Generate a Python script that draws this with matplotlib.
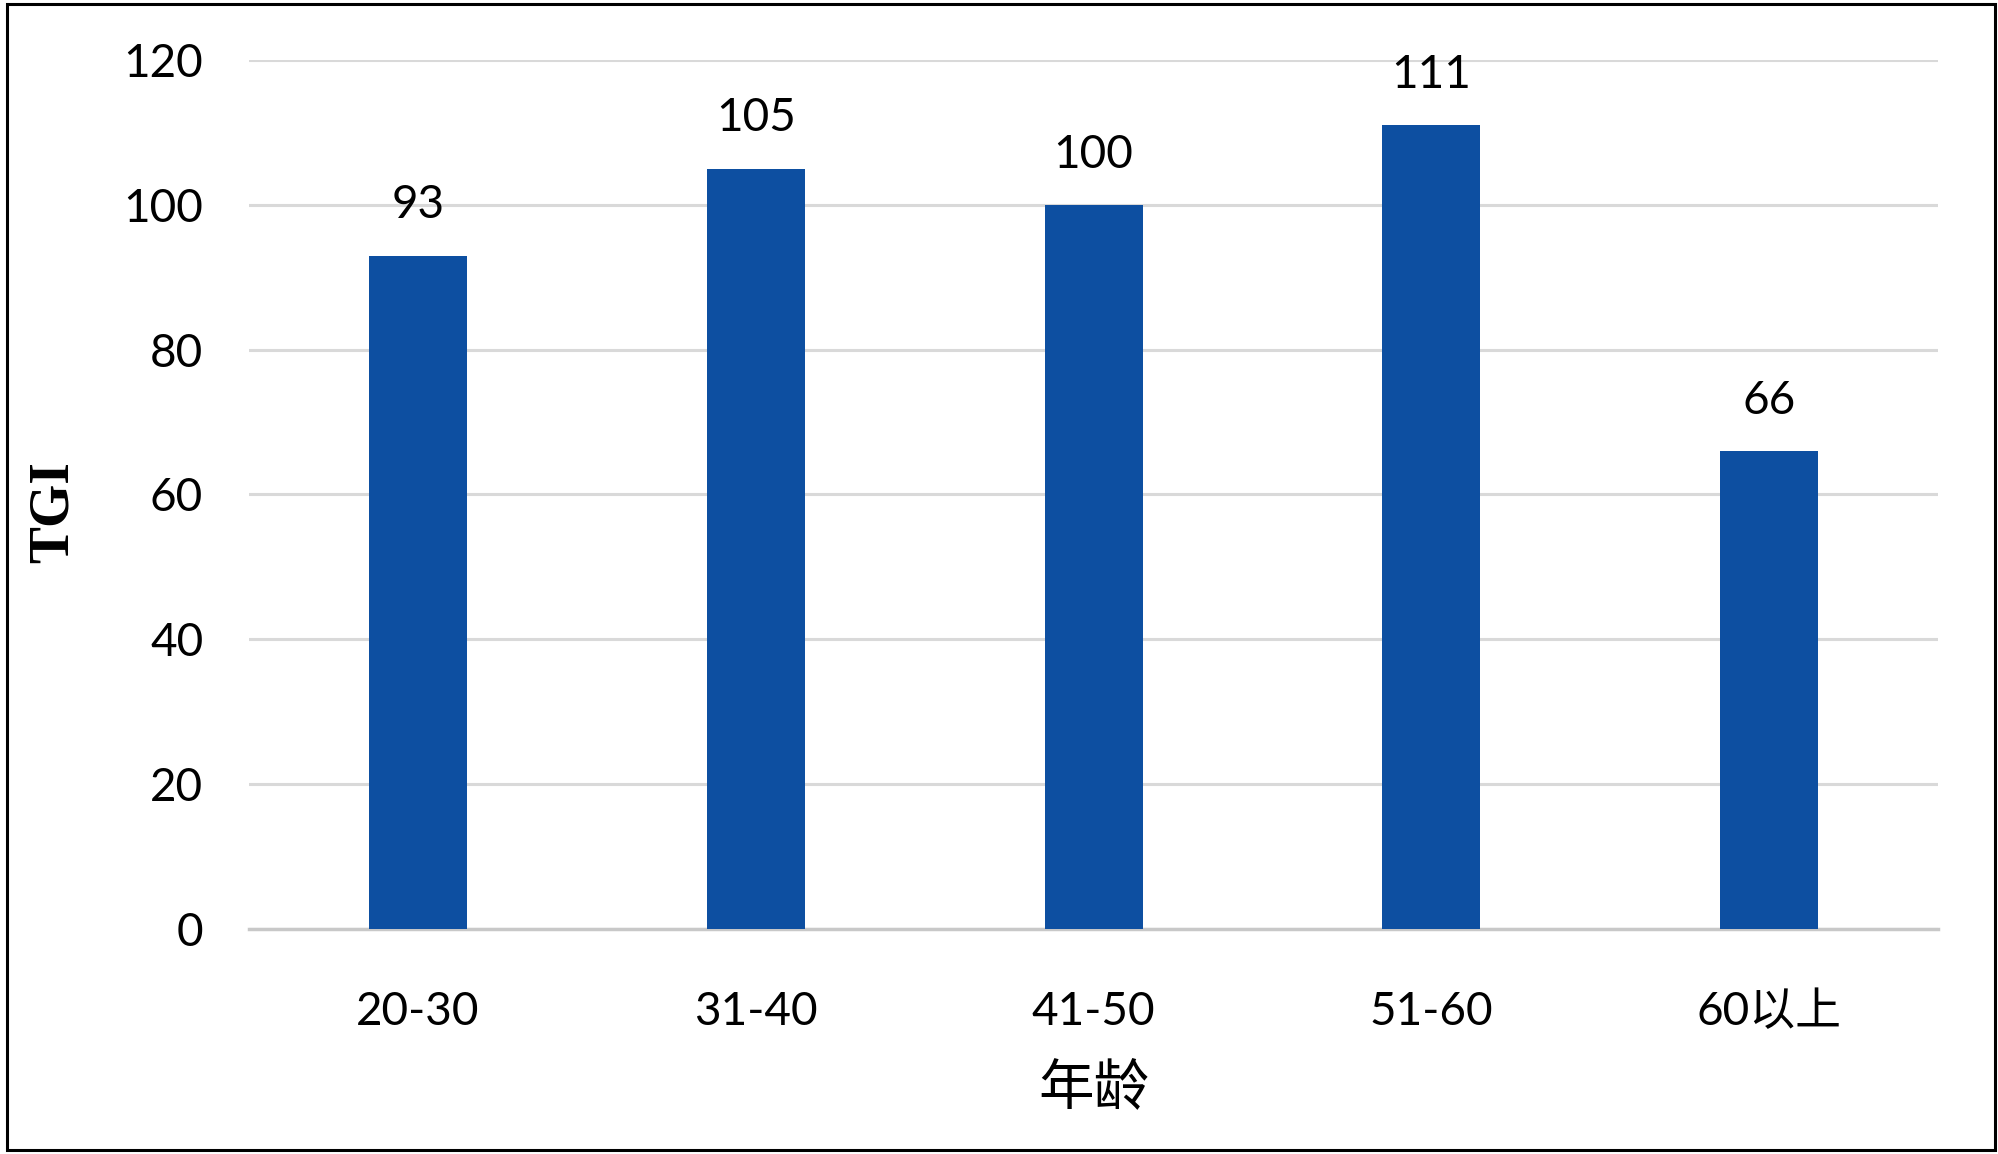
import matplotlib.pyplot as plt
from matplotlib.patches import Rectangle

ages = ['20-30', '31-40', '41-50', '51-60', '60以上']
tgi = [93, 105, 100, 111, 66]
yticks = [0, 20, 40, 60, 80, 100, 120]

plt.rcParams['font.family'] = ['Lato', 'Noto Sans CJK SC', 'DejaVu Sans']

fig = plt.figure(figsize=(19.99, 11.54), dpi=100)
ax = fig.add_axes([0.1246, 0.195, 0.9695 - 0.1246, 0.948 - 0.195])

x = range(len(ages))
bars = ax.bar(x, tgi, width=0.29, color='#0D4FA1', zorder=3)
for b, v in zip(bars, tgi):
    ax.annotate(str(v), (b.get_x() + b.get_width() / 2, v), xytext=(0, 21),
                textcoords='offset points', ha='center', va='bottom', fontsize=33)

ax.set_xlim(-0.5, len(ages) - 0.5)
ax.set_ylim(0, 120)
ax.set_yticks(yticks)
ax.set_xticks(list(x))
ax.set_xticklabels(ages)
ax.tick_params(axis='y', length=0, labelsize=33, pad=33)
ax.tick_params(axis='x', length=0, labelsize=33, pad=45)
ax.grid(axis='y', color='#D9D9D9', linewidth=2.2, zorder=0)
for s in ['top', 'right', 'left']:
    ax.spines[s].set_visible(False)
ax.spines['bottom'].set_color('#C8C8C8')
ax.spines['bottom'].set_linewidth(2.5)

ax.set_ylabel('TGI', family='Liberation Serif', fontweight='bold', fontsize=40)
ax.yaxis.set_label_coords(-0.1, 0.48)
ax.set_xlabel('年龄', fontsize=40, labelpad=21)

fig.patches.append(Rectangle((7 / 1999, 4 / 1154), 1988 / 1999, 1146 / 1154,
                             transform=fig.transFigure, fill=False,
                             edgecolor='black', linewidth=2.2))

fig.savefig('out.png', dpi=100)
